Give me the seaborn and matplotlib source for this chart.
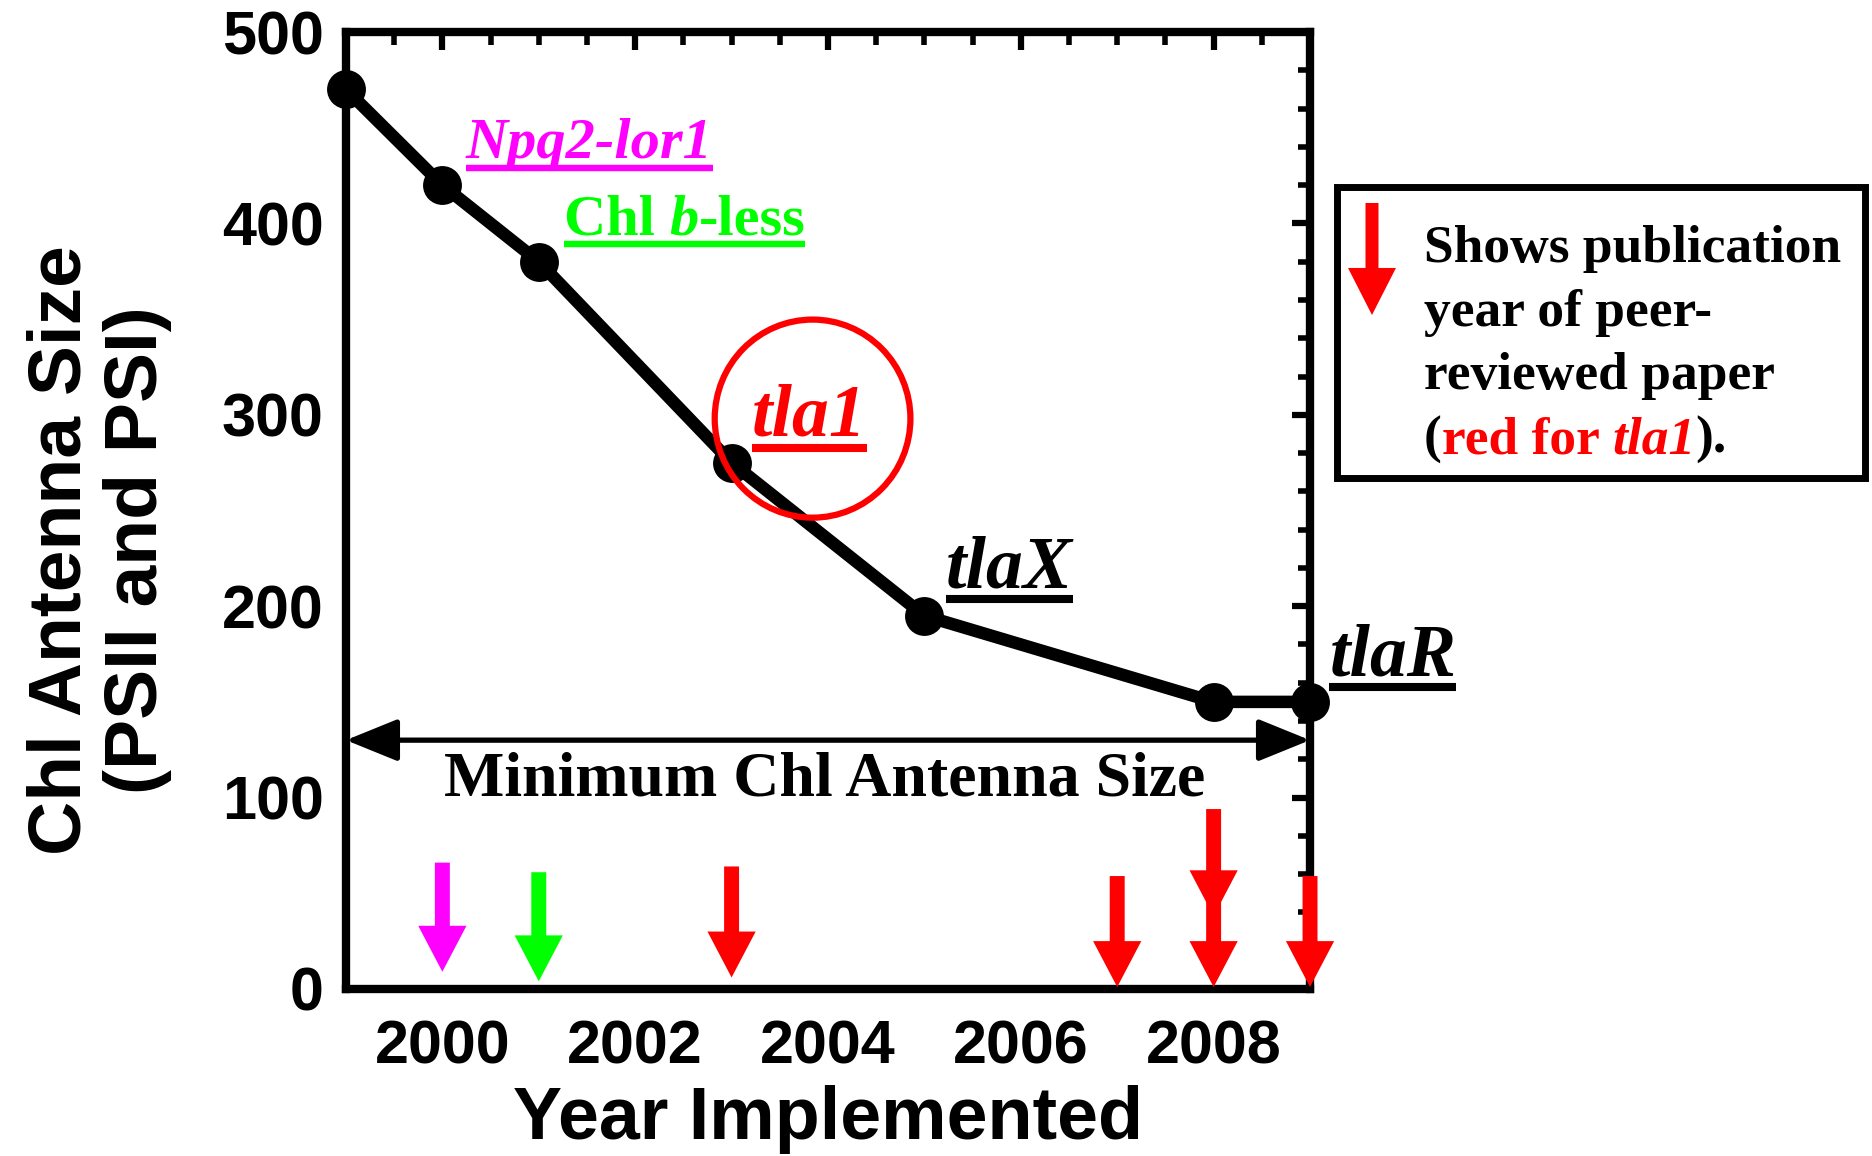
import matplotlib
matplotlib.use("Agg")
import matplotlib.pyplot as plt
import matplotlib.transforms as mtransforms
from matplotlib.patches import Ellipse, Rectangle, FancyArrow
from matplotlib.lines import Line2D
from matplotlib.ticker import MultipleLocator
import seaborn as sns

# data
years = [1999, 2000, 2001, 2003, 2005, 2008, 2009]
antenna = [470, 420, 380, 275, 195, 150, 150]

pub_year = [2000, 2001, 2003, 2007, 2008, 2008, 2009]
pub_top = [66, 61, 64, 59, 94, 59, 59]
pub_tip = [9, 4, 6, 1, 38, 1, 1]
pub_color = ["#ff00ff", "#00ff00", "#ff0000", "#ff0000", "#ff0000", "#ff0000", "#ff0000"]

min_size = 130

sns.set_theme(style="white")
plt.rcParams["font.family"] = ["Liberation Sans", "DejaVu Sans"]
plt.rcParams["font.weight"] = "bold"
for k in ["text.color", "axes.labelcolor", "xtick.color", "ytick.color", "axes.edgecolor"]:
    plt.rcParams[k] = "black"
SERIF = ["Liberation Serif", "DejaVu Serif"]

fig = plt.figure(figsize=(18.72, 11.56), dpi=100)
ax = fig.add_axes([0.1848, 0.1445, 0.515, 0.8278])

sns.lineplot(x=years, y=antenna, ax=ax, color="black", lw=9, marker="o",
             markersize=28, markeredgewidth=0, errorbar=None, clip_on=False, zorder=4)

for x, top, tip, c in zip(pub_year, pub_top, pub_tip, pub_color):
    ax.arrow(x, top, 0, tip - top, width=0.155, head_width=0.5, head_length=24,
             length_includes_head=True, fc=c, ec="none", clip_on=False, zorder=6)

ax.annotate("", xy=(years[0], min_size), xytext=(years[-1], min_size),
            arrowprops=dict(arrowstyle="<|-|>,head_length=1.6,head_width=0.65",
                            lw=3.8, color="black", shrinkA=0, shrinkB=0,
                            mutation_scale=20), zorder=3)

ax.add_patch(Ellipse((2003.84, 298), 2.03, 103.5, fill=False, ec="#ff0000", lw=4.5, zorder=5))

ax.set_xlim(1999, 2009)
ax.set_ylim(0, 500)
ax.set_xticks([2000, 2002, 2004, 2006, 2008])
ax.set_xticklabels(["2000", "2002", "2004", "2006", "2008"])
ax.set_yticks([0, 100, 200, 300, 400, 500])
ax.set_yticklabels(["0", "100", "200", "300", "400", "500"])
ax.xaxis.set_minor_locator(MultipleLocator(0.5))
ax.yaxis.set_minor_locator(MultipleLocator(20))
ax.tick_params(which="both", direction="in", top=True, right=True, color="black")
ax.tick_params(which="major", length=13, width=4.5, labelsize=44)
ax.tick_params(axis="x", which="major", pad=22)
ax.tick_params(axis="y", which="major", pad=16)
ax.tick_params(which="minor", length=9, width=4)
for s in ax.spines.values():
    s.set_color("black")
    s.set_linewidth(6)

ax.set_xlabel("Year Implemented", fontsize=53, fontweight="bold")
ax.set_ylabel("Chl Antenna Size\n(PSII and PSI)", fontsize=54, fontweight="bold", linespacing=1.15)
ax.xaxis.set_label_coords(0.5, -0.1)
ax.yaxis.set_label_coords(-0.18, 0.459)

renderer = fig.canvas.get_renderer()


def rich(x, y, pieces, transform, size):
    out = []
    t = transform
    for s, color, style in pieces:
        txt = fig.text(x, y, s, transform=t, color=color, fontsize=size, fontweight="bold",
                       fontstyle=style, family=SERIF, va="baseline", ha="left", zorder=7)
        ex = txt.get_window_extent(renderer)
        t = mtransforms.offset_copy(txt.get_transform(), x=ex.width, units="dots", fig=fig)
        out.append(txt)
    return out


def underline(texts, x, y, transform, size, color):
    x0 = texts[0].get_window_extent(renderer).x0
    x1 = texts[-1].get_window_extent(renderer).x1
    by = transform.transform((x, y))[1] - size * 0.16 * fig.dpi / 72
    p0 = fig.transFigure.inverted().transform((x0, by))
    p1 = fig.transFigure.inverted().transform((x1, by))
    fig.add_artist(Line2D([p0[0], p1[0]], [p0[1], p1[1]], color=color,
                          lw=size * 0.11, solid_capstyle="butt"))


labels = [
    (2000.245, 434, [("Npq2-lor1", "#ff00ff", "italic")], 42, "#ff00ff"),
    (2001.26, 394, [("Chl ", "#00ff00", "normal"), ("b", "#00ff00", "italic"),
                    ("-less", "#00ff00", "normal")], 42, "#00ff00"),
    (2003.21, 289, [("tla1", "#ff0000", "italic")], 53, "#ff0000"),
    (2005.22, 210, [("tlaX", "black", "italic")], 53, "black"),
    (2009.2, 164, [("tlaR", "black", "italic")], 53, "black"),
]
for x, y, pieces, size, col in labels:
    tt = rich(x, y, pieces, ax.transData, size)
    underline(tt, x, y, ax.transData, size, col)

ax.text(2003.96, 101, "Minimum Chl Antenna Size", ha="center", va="baseline",
        fontsize=46, fontweight="bold", family=SERIF, zorder=7)

# key box on the right
fig.add_artist(Rectangle((0.7142, 0.5865), 0.282, 0.2517, transform=fig.transFigure,
                         fill=False, ec="black", lw=5))
fig.add_artist(FancyArrow(0.7329, 0.8244, 0, -0.0969, width=0.00694, head_width=0.0256,
                          head_length=0.0407, length_includes_head=True, fc="#ff0000",
                          ec="none", transform=fig.transFigure))
key_x = 0.7607
key_lines = ["Shows publication", "year of peer-", "reviewed paper"]
key_base = [262, 325.7, 389.4, 453]
for line, b in zip(key_lines, key_base):
    fig.text(key_x, 1 - b / 1156, line, fontsize=38.5, fontweight="bold", family=SERIF,
             va="baseline", ha="left")
rich(key_x, 1 - key_base[3] / 1156,
     [("(", "black", "normal"), ("red for ", "#ff0000", "normal"),
      ("tla1", "#ff0000", "italic"), (").", "black", "normal")],
     fig.transFigure, 38.5)

fig.savefig("out.png", dpi=100)
